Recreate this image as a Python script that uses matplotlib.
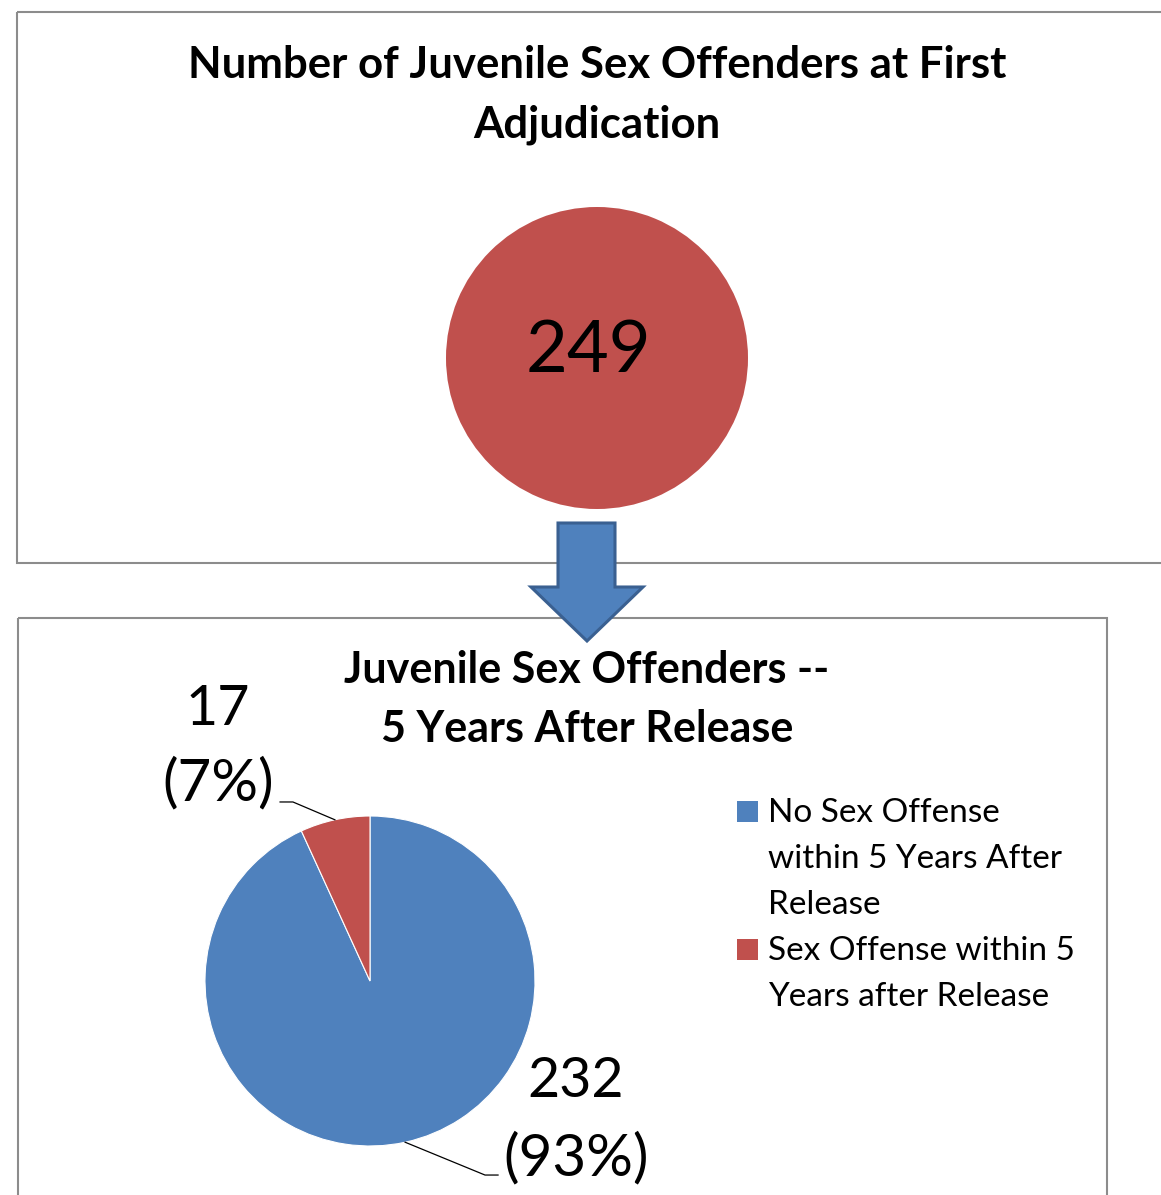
import numpy as np
import matplotlib.pyplot as plt
from matplotlib.patches import Rectangle, Polygon

plt.rcParams['font.family'] = ['Lato', 'DejaVu Sans']

############################### Datos ###############################
total_label   = "Number of Juvenile Sex Offenders at First\nAdjudication"
total_value   = 249

pie_title     = "Juvenile Sex Offenders --\n5 Years After Release"
pie_labels    = ["No Sex Offense\nwithin 5 Years After\nRelease",
                 "Sex Offense within 5\nYears after Release"]
pie_values    = [232, 17]
pie_colors    = ['#4F81BD', '#C0504D']

W, H = 1161, 1195

fig = plt.figure(figsize=(W/100., H/100.), dpi=100)
fig.patch.set_facecolor('white')

### Ejes de fondo en pixeles (cajas, flecha, textos)
bg = fig.add_axes([0, 0, 1, 1])
bg.set_xlim(0, W)
bg.set_ylim(H, 0)
bg.axis('off')

bg.add_patch(Rectangle((17, 12), 1200, 551, fill=False, ec='#8C8C8C', lw=1.5))
bg.add_patch(Rectangle((18, 618), 1089, 700, fill=False, ec='#8C8C8C', lw=1.5))

### Flecha
arrow = [(558, 523), (615, 523), (615, 587), (643, 587), (587, 641),
         (531, 587), (558, 587)]
bg.add_patch(Polygon(arrow, closed=True, fc='#4F81BD', ec='#3A6091', lw=2.2,
                     joinstyle='miter', zorder=3))

### Titulos
for i, line in enumerate(total_label.split('\n')):
    bg.text(597, 78 + 59*i, line, ha='center', va='baseline',
            fontsize=31.5, fontweight='bold')
for i, line in enumerate(pie_title.split('\n')):
    bg.text(587, 683 + 59*i, line, ha='center', va='baseline',
            fontsize=31, fontweight='bold')

################################ Circulo ##############################
def px_axes(cx, cy, r):
    return fig.add_axes([(cx - r)/W, (H - cy - r)/H, 2*r/W, 2*r/H])

ax1 = px_axes(597, 358, 151)
ax1.pie([total_value], colors=['#C0504D'], radius=1.0,
        wedgeprops=dict(linewidth=0))
ax1.set_xlim(-1, 1)
ax1.set_ylim(-1, 1)
ax1.text(-0.06, 0.045, str(total_value), ha='center', va='center',
         fontsize=52)

################################ Torta ################################
ax2 = px_axes(370, 981, 165)
wedges, _ = ax2.pie(pie_values, colors=pie_colors, startangle=90,
                    counterclock=False, radius=1.0,
                    wedgeprops=dict(linewidth=0.8, edgecolor='white'))
ax2.set_xlim(-1, 1)
ax2.set_ylim(-1, 1)

tot = float(sum(pie_values))
### Lineas guia: (codo, fin) en unidades de radio
guides = [((0.697, -1.176), (0.776, -1.176)),
          ((-0.467, 1.085), (-0.545, 1.085))]
for w, (elb, end) in zip(wedges, guides):
    ang = np.deg2rad((w.theta1 + w.theta2)/2.)
    p0 = (np.cos(ang), np.sin(ang))
    ax2.plot([p0[0], elb[0], end[0]], [p0[1], elb[1], end[1]],
             color='black', lw=0.9, clip_on=False)

### Etiquetas de datos (posiciones en pixeles)
label_pos = [(576, 1097, 1175), (218, 725, 800)]
for v, (x, y1, y2) in zip(pie_values, label_pos):
    bg.text(x, y1, str(v), ha='center', va='baseline', fontsize=40)
    bg.text(x, y2, '(%d%%)' % round(100*v/tot), ha='center',
            va='baseline', fontsize=42)

### Leyenda
yb = 822
for lab, c in zip(pie_labels, pie_colors):
    bg.add_patch(Rectangle((737, yb - 21), 21, 21, fc=c, ec='none'))
    for line in lab.split('\n'):
        bg.text(768, yb, line, ha='left', va='baseline', fontsize=24)
        yb += 46

fig.savefig('out.png', dpi=100)
